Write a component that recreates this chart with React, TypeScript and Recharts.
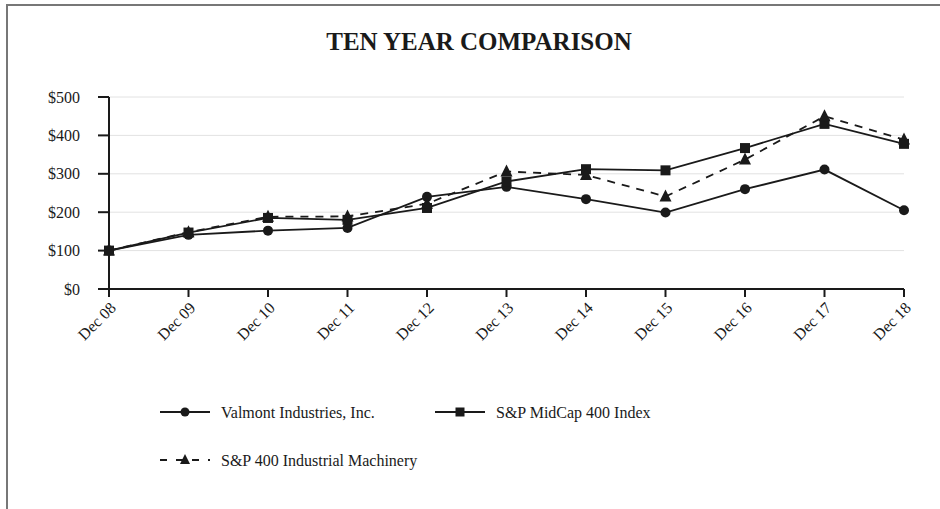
import React from 'react';
import { LineChart, Line, XAxis, YAxis, CartesianGrid } from 'recharts';

const years = ['Dec 08', 'Dec 09', 'Dec 10', 'Dec 11', 'Dec 12', 'Dec 13', 'Dec 14', 'Dec 15', 'Dec 16', 'Dec 17', 'Dec 18'];
const valmont = [100, 141, 152, 159, 240, 266, 234, 199, 260, 311, 205];
const midcap = [100, 147, 185, 180, 211, 280, 312, 309, 367, 430, 378];
const machinery = [100, 148, 188, 189, 222, 306, 297, 241, 337, 450, 389];
const yTicks = [0, 100, 200, 300, 400, 500];

const seriesNames = {
  valmont: 'Valmont Industries, Inc.',
  midcap: 'S&P MidCap 400 Index',
  machinery: 'S&P 400 Industrial Machinery',
};

const data = years.map((year, i) => ({
  year,
  valmont: valmont[i],
  midcap: midcap[i],
  machinery: machinery[i],
}));

const FONT = '"Liberation Serif", "Times New Roman", serif';
const INK = '#1a1a1a';

const CircleDot = (props: any) => {
  const { cx, cy, index } = props;
  return <circle key={`c-${index}`} cx={cx} cy={cy} r={5} fill={INK} />;
};

const SquareDot = (props: any) => {
  const { cx, cy, index } = props;
  return <rect key={`s-${index}`} x={cx - 5} y={cy - 5} width={10} height={10} fill={INK} />;
};

const TriangleDot = (props: any) => {
  const { cx, cy, index } = props;
  return <path key={`t-${index}`} d={`M${cx},${cy - 7} L${cx + 6},${cy + 5} L${cx - 6},${cy + 5} Z`} fill={INK} />;
};

const XTick = (props: any) => {
  const { x, y, payload } = props;
  return (
    <text
      x={x + 4}
      y={y + 6}
      transform={`rotate(-45, ${x + 4}, ${y + 6})`}
      textAnchor="end"
      dominantBaseline="central"
      fontFamily={FONT}
      fontSize={16}
      fill={INK}
    >
      {payload.value}
    </text>
  );
};

const LegendSample = ({ kind, x, y }: { kind: string; x: number; y: number }) => {
  const mid = x + 25;
  return (
    <g>
      {kind === 'machinery' ? (
        <line x1={x} y1={y} x2={x + 50} y2={y} stroke={INK} strokeWidth={2} strokeDasharray="7 9" />
      ) : (
        <line x1={x} y1={y} x2={x + 50} y2={y} stroke={INK} strokeWidth={2} />
      )}
      {kind === 'valmont' && <circle cx={mid} cy={y} r={4.5} fill={INK} />}
      {kind === 'midcap' && <rect x={mid - 4.5} y={y - 4.5} width={9} height={9} fill={INK} />}
      {kind === 'machinery' && <path d={`M${mid},${y - 6} L${mid + 5},${y + 4} L${mid - 5},${y + 4} Z`} fill={INK} />}
    </g>
  );
};

const LegendBox = () => {
  const items = [
    { kind: 'valmont', x: 160, y: 18 },
    { kind: 'midcap', x: 435, y: 18 },
    { kind: 'machinery', x: 160, y: 66 },
  ];
  return (
    <svg width={940} height={90} style={{ display: 'block' }}>
      {items.map((it) => (
        <g key={it.kind}>
          <LegendSample kind={it.kind} x={it.x} y={it.y} />
          <text
            x={it.x + 61}
            y={it.y}
            dominantBaseline="central"
            fontFamily={FONT}
            fontSize={16}
            fill={INK}
          >
            {seriesNames[it.kind as keyof typeof seriesNames]}
          </text>
        </g>
      ))}
    </svg>
  );
};

export default function App() {
  return (
    <div
      style={{
        position: 'absolute',
        left: 0,
        top: 0,
        width: 940,
        height: 509,
        overflow: 'hidden',
        background: '#fff',
      }}
    >
      <div
        style={{
          position: 'absolute',
          left: 6,
          top: 4,
          width: 1000,
          height: 1000,
          border: '2px solid #777',
        }}
      />
      <div
        style={{
          position: 'absolute',
          left: 0,
          top: 28,
          width: 958,
          textAlign: 'center',
          fontFamily: FONT,
          fontWeight: 'bold',
          fontSize: 25,
          color: INK,
        }}
      >
        TEN YEAR COMPARISON
      </div>
      <div style={{ position: 'absolute', left: 0, top: 0 }}>
        <LineChart width={940} height={509} data={data} margin={{ top: 97, right: 36, bottom: 160, left: 0 }}>
          <CartesianGrid vertical={false} stroke="#e2e2e2" />
          <XAxis
            dataKey="year"
            stroke={INK}
            strokeWidth={2}
            tickSize={8}
            tick={<XTick />}
            interval={0}
            height={60}
          />
          <YAxis
            domain={[0, 500]}
            ticks={yTicks}
            tickFormatter={(v: number) => `$${v}`}
            stroke={INK}
            strokeWidth={2}
            tickSize={11}
            tickMargin={18}
            width={109}
            tick={{ fontFamily: FONT, fontSize: 16, fill: INK }}
          />
          <Line
            type="linear"
            dataKey="valmont"
            name={seriesNames.valmont}
            stroke={INK}
            strokeWidth={1.8}
            dot={CircleDot}
            isAnimationActive={false}
          />
          <Line
            type="linear"
            dataKey="midcap"
            name={seriesNames.midcap}
            stroke={INK}
            strokeWidth={1.8}
            dot={SquareDot}
            isAnimationActive={false}
          />
          <Line
            type="linear"
            dataKey="machinery"
            name={seriesNames.machinery}
            stroke={INK}
            strokeWidth={1.8}
            strokeDasharray="8 7"
            dot={TriangleDot}
            isAnimationActive={false}
          />
        </LineChart>
      </div>
      <div style={{ position: 'absolute', left: 0, top: 394 }}>
        <LegendBox />
      </div>
    </div>
  );
}
